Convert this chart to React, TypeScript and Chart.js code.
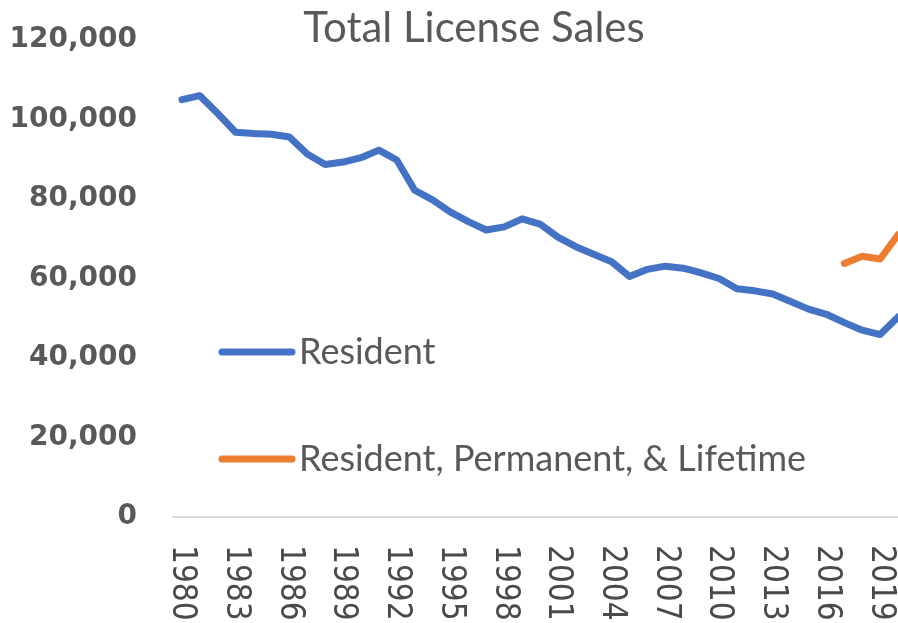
import { useEffect, useRef } from "react";
import { Chart, registerables } from "chart.js";

Chart.register(...registerables);

const years = [
  "1980", "1981", "1982", "1983", "1984", "1985", "1986", "1987", "1988", "1989",
  "1990", "1991", "1992", "1993", "1994", "1995", "1996", "1997", "1998", "1999",
  "2000", "2001", "2002", "2003", "2004", "2005", "2006", "2007", "2008", "2009",
  "2010", "2011", "2012", "2013", "2014", "2015", "2016", "2017", "2018", "2019",
  "2020",
];

const residentSales = [
  105000, 106000, 101500, 96800, 96500, 96300, 95600, 91300, 88700, 89300,
  90400, 92300, 89800, 82200, 79800, 76700, 74300, 72200, 73000, 75000,
  73700, 70400, 68000, 66100, 64200, 60500, 62300, 63100, 62600, 61400,
  60000, 57400, 56900, 56100, 54200, 52300, 51000, 48900, 47000, 45900,
  50300,
];

const residentPermLifetimeSales = [
  null, null, null, null, null, null, null, null, null, null,
  null, null, null, null, null, null, null, null, null, null,
  null, null, null, null, null, null, null, null, null, null,
  null, null, null, null, null, null, null, 63800, 65600, 64900,
  71000,
];

const seriesLabels = ["Resident", "Resident, Permanent, & Lifetime"];
const seriesColors = ["#4472C4", "#ED7D31"];
const titleText = "Total License Sales";

const TEXT = "#595959";

const overlayPlugin = {
  id: "overlay",
  afterDraw(chart: any) {
    const ctx = chart.ctx as CanvasRenderingContext2D;
    const xs = chart.scales.x;
    ctx.save();
    // title
    ctx.fillStyle = TEXT;
    ctx.font = "42px Lato";
    ctx.textAlign = "center";
    ctx.textBaseline = "alphabetic";
    ctx.fillText(titleText, 474, 42);

    // x tick labels, rotated to read top-to-bottom
    ctx.fillStyle = "#4a4a4a";
    ctx.font = '33px "DejaVu Sans Condensed", "DejaVu Sans"';
    ctx.textAlign = "left";
    ctx.textBaseline = "middle";
    for (let i = 0; i < years.length; i += 3) {
      const x = xs.getPixelForValue(i);
      ctx.save();
      ctx.translate(x, 545);
      ctx.rotate(Math.PI / 2);
      ctx.fillText(years[i], 0, 0);
      ctx.restore();
    }

    // legend inside plot
    const legendY = [352, 459];
    chart.data.datasets.forEach((ds: any, i: number) => {
      const y = legendY[i];
      ctx.beginPath();
      ctx.strokeStyle = ds.borderColor;
      ctx.lineWidth = 7;
      ctx.lineCap = "round";
      ctx.moveTo(222, y);
      ctx.lineTo(292, y);
      ctx.stroke();
      ctx.fillStyle = TEXT;
      ctx.font = "36px Lato";
      ctx.textAlign = "left";
      ctx.textBaseline = "alphabetic";
      ctx.fillText(ds.label, 299, y + 12);
    });
    ctx.restore();
  },
};

export default function App() {
  const canvasRef = useRef<HTMLCanvasElement | null>(null);

  useEffect(() => {
    if (!canvasRef.current) return;
    const chart = new Chart(canvasRef.current, {
      type: "line",
      data: {
        labels: years,
        datasets: [
          {
            label: seriesLabels[0],
            data: residentSales,
            borderColor: seriesColors[0],
            backgroundColor: seriesColors[0],
            borderWidth: 7,
            pointRadius: 0,
            tension: 0,
            borderJoinStyle: "round",
            borderCapStyle: "round",
          },
          {
            label: seriesLabels[1],
            data: residentPermLifetimeSales as any,
            borderColor: seriesColors[1],
            backgroundColor: seriesColors[1],
            borderWidth: 7,
            pointRadius: 0,
            tension: 0,
            borderJoinStyle: "round",
            borderCapStyle: "round",
            spanGaps: false,
          },
        ],
      },
      options: {
        animation: false,
        responsive: false,
        devicePixelRatio: 1,
        layout: { padding: { top: 40, right: 41, left: 0, bottom: 0 } },
        plugins: {
          legend: { display: false },
          title: { display: false },
          tooltip: { enabled: false },
        },
        scales: {
          x: {
            type: "category",
            offset: true,
            grid: { display: false },
            ticks: { display: false },
            border: { display: true, color: "#d9d9d9", width: 2 },
            afterFit: (s: any) => {
              s.height = 106;
            },
          },
          y: {
            min: 0,
            max: 120000,
            grid: { display: false, drawTicks: false },
            border: { display: false },
            ticks: {
              stepSize: 20000,
              padding: 36,
              color: TEXT,
              font: { family: "DejaVu Sans", size: 28, weight: "bold" },
              callback: (v: any) => Number(v).toLocaleString("en-US"),
            },
            afterFit: (s: any) => {
              s.width = 173;
              s.paddingTop = 0;
              s.paddingBottom = 0;
            },
          },
        },
      },
      plugins: [overlayPlugin],
    });
    return () => chart.destroy();
  }, []);

  return (
    <div
      style={{
        position: "fixed",
        left: 0,
        top: 0,
        width: 898,
        height: 623,
        overflow: "hidden",
        background: "#fff",
      }}
    >
      <canvas
        ref={canvasRef}
        width={948}
        height={623}
        style={{ display: "block", width: 948, height: 623 }}
      />
    </div>
  );
}
